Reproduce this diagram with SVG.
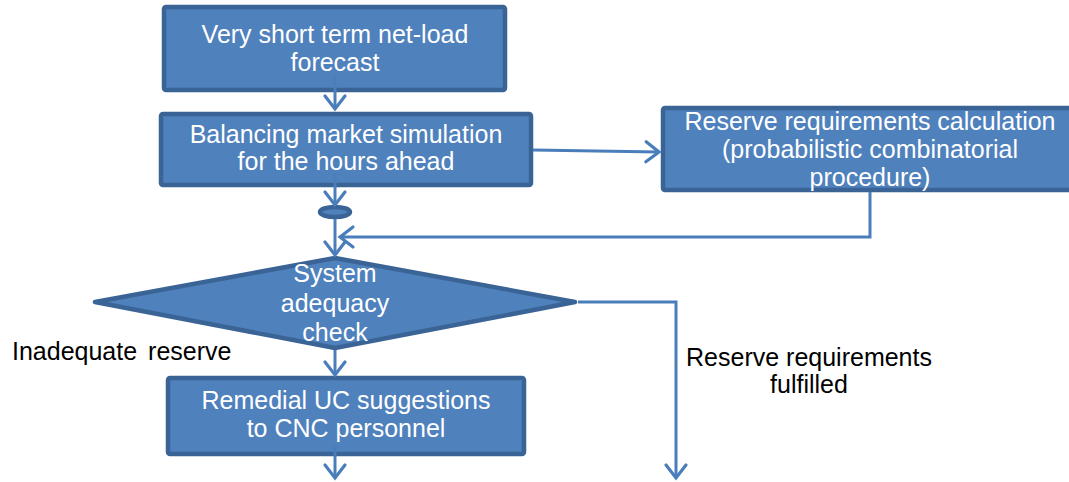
<svg xmlns="http://www.w3.org/2000/svg" width="1069" height="482" viewBox="0 0 1069 482">
<style>
.box{fill:#4f81bd;stroke:#3b6496;stroke-width:4.5;stroke-linejoin:round}
.wt{font-family:"Liberation Sans",Arial,sans-serif;font-size:25px;fill:#ffffff;text-anchor:middle}
.bt{font-family:"Liberation Sans",Arial,sans-serif;font-size:25px;fill:#000000}
.con{fill:none;stroke:#4a7ebb;stroke-width:3;stroke-linejoin:miter}
</style>
<defs>
<marker id="arr" markerUnits="userSpaceOnUse" markerWidth="34" markerHeight="34" viewBox="-17 -17 34 34" refX="0" refY="0" orient="auto" overflow="visible">
<path d="M-13,-10 L0,0 L-13,10" fill="none" stroke="#4a7ebb" stroke-width="3.2" stroke-linecap="round" stroke-linejoin="miter"/>
</marker>
</defs>
<rect width="1069" height="482" fill="#ffffff"/>
<g id="forecast">
<rect class="box" x="164" y="7" width="341" height="83" rx="2"/>
<text class="wt" x="335" y="43">Very short term net-load</text>
<text class="wt" x="335" y="71">forecast</text>
</g>
<g id="balancing">
<rect class="box" x="161" y="114" width="370" height="71" rx="2"/>
<text class="wt" x="346" y="143">Balancing market simulation</text>
<text class="wt" x="346" y="170">for the hours ahead</text>
</g>
<g id="reserve-calc">
<rect class="box" x="663" y="108" width="420" height="82" rx="2"/>
<text class="wt" x="870" y="130">Reserve requirements calculation</text>
<text class="wt" x="870" y="158">(probabilistic combinatorial</text>
<text class="wt" x="870" y="186">procedure)</text>
</g>
<g id="junction">
<ellipse class="box" cx="335" cy="212" rx="15" ry="5"/>
</g>
<g id="adequacy-check">
<polygon class="box" points="95,302 335,258 575,302 335,348"/>
<text class="wt" x="335" y="282">System</text>
<text class="wt" x="335" y="312">adequacy</text>
<text class="wt" x="335" y="341">check</text>
</g>
<g id="remedial">
<rect class="box" x="168" y="378" width="356" height="76" rx="2"/>
<text class="wt" x="346" y="409">Remedial UC suggestions</text>
<text class="wt" x="346" y="437">to CNC personnel</text>
</g>
<g id="labels">
<text class="bt" x="12" y="360" word-spacing="4">Inadequate reserve</text>
<text class="bt" x="809" y="366" text-anchor="middle">Reserve requirements</text>
<text class="bt" x="809" y="393" text-anchor="middle">fulfilled</text>
</g>
<g id="connectors">
<path class="con" d="M335,76 L335,109" marker-end="url(#arr)"/>
<path class="con" d="M335,173 L335,205" marker-end="url(#arr)"/>
<path class="con" d="M335,219 L335,255" marker-end="url(#arr)"/>
<path class="con" d="M533,150 L659,152" marker-end="url(#arr)"/>
<path class="con" d="M870,192 L870,237 L340,237" marker-end="url(#arr)"/>
<path class="con" d="M578,302 L676,302 L676,478" marker-end="url(#arr)"/>
<path class="con" d="M335,350 L335,375" marker-end="url(#arr)"/>
<path class="con" d="M335,445 L335,478" marker-end="url(#arr)"/>
</g>
</svg>
